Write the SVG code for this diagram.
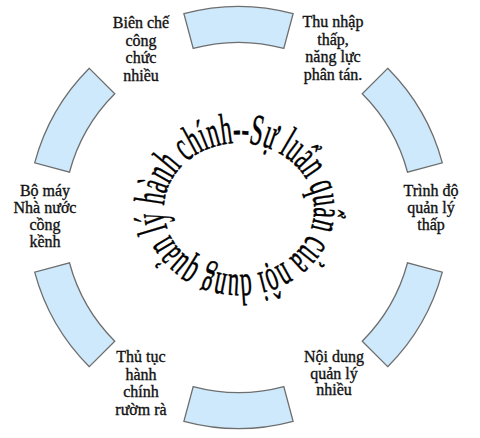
<svg xmlns="http://www.w3.org/2000/svg" width="480" height="438" viewBox="0 0 480 438">
<style>
.seg{fill:#cde9fb;stroke:#6e6e6e;stroke-width:1.3}
.lbl{font-family:"Liberation Serif","Times New Roman",serif;font-size:16px;fill:#111;stroke:#111;stroke-width:0.35;text-anchor:middle}
.ring{font-family:"Liberation Serif","Times New Roman",serif;font-size:44px;fill:#000;stroke:#000;stroke-width:0.5}
</style>
<defs>
<path id="tp" d="M164,209 A75,66 0 0 1 239,143 A75,66 0 0 1 314,209 A75,66 0 0 1 239,275 A75,66 0 0 1 164,209 A75,66 0 0 1 239,143 A75,66 0 0 1 314,209"/>
</defs>
<rect width="480" height="438" fill="#fff"/>
<g id="connectors">
<path class="seg" d="M183.89,13.69 A211,211 0 0 1 293.11,13.69 L283.79,48.46 A175,175 0 0 0 193.21,48.46 Z"/>
<path class="seg" d="M387.70,68.30 A211,211 0 0 1 442.31,162.89 L407.54,172.21 A175,175 0 0 0 362.24,93.76 Z"/>
<path class="seg" d="M442.31,272.11 A211,211 0 0 1 387.70,366.70 L362.24,341.24 A175,175 0 0 0 407.54,262.79 Z"/>
<path class="seg" d="M293.11,421.31 A211,211 0 0 1 183.89,421.31 L193.21,386.54 A175,175 0 0 0 283.79,386.54 Z"/>
<path class="seg" d="M89.30,366.70 A211,211 0 0 1 34.69,272.11 L69.46,262.79 A175,175 0 0 0 114.76,341.24 Z"/>
<path class="seg" d="M34.69,162.89 A211,211 0 0 1 89.30,68.30 L114.76,93.76 A175,175 0 0 0 69.46,172.21 Z"/>
</g>
<g id="center">
<text class="ring"><textPath href="#tp" startOffset="120" textLength="443" lengthAdjust="spacingAndGlyphs">Sự luẩn quẩn của nội dung quản lý hành chính--</textPath></text>
</g>
<g id="n1"><text class="lbl"><tspan x="141" y="28">Biên chế</tspan><tspan x="141" y="45.5">công</tspan><tspan x="141" y="63">chức</tspan><tspan x="141" y="80.5">nhiều</tspan></text></g>
<g id="n2"><text class="lbl"><tspan x="333" y="27">Thu nhập</tspan><tspan x="333" y="44.5">thấp,</tspan><tspan x="333" y="62">năng lực</tspan><tspan x="333" y="79.5">phân tán.</tspan></text></g>
<g id="n3"><text class="lbl"><tspan x="431" y="196">Trình độ</tspan><tspan x="431" y="213">quản lý</tspan><tspan x="431" y="230">thấp</tspan></text></g>
<g id="n4"><text class="lbl"><tspan x="334" y="362">Nội dung</tspan><tspan x="334" y="378.5">quản lý</tspan><tspan x="334" y="395">nhiều</tspan></text></g>
<g id="n5"><text class="lbl"><tspan x="141" y="362">Thủ tục</tspan><tspan x="141" y="379.5">hành</tspan><tspan x="141" y="397">chính</tspan><tspan x="141" y="414.5">rườm rà</tspan></text></g>
<g id="n6"><text class="lbl"><tspan x="45" y="196">Bộ máy</tspan><tspan x="45" y="213">Nhà nước</tspan><tspan x="45" y="230">cồng</tspan><tspan x="45" y="247">kềnh</tspan></text></g>
</svg>
